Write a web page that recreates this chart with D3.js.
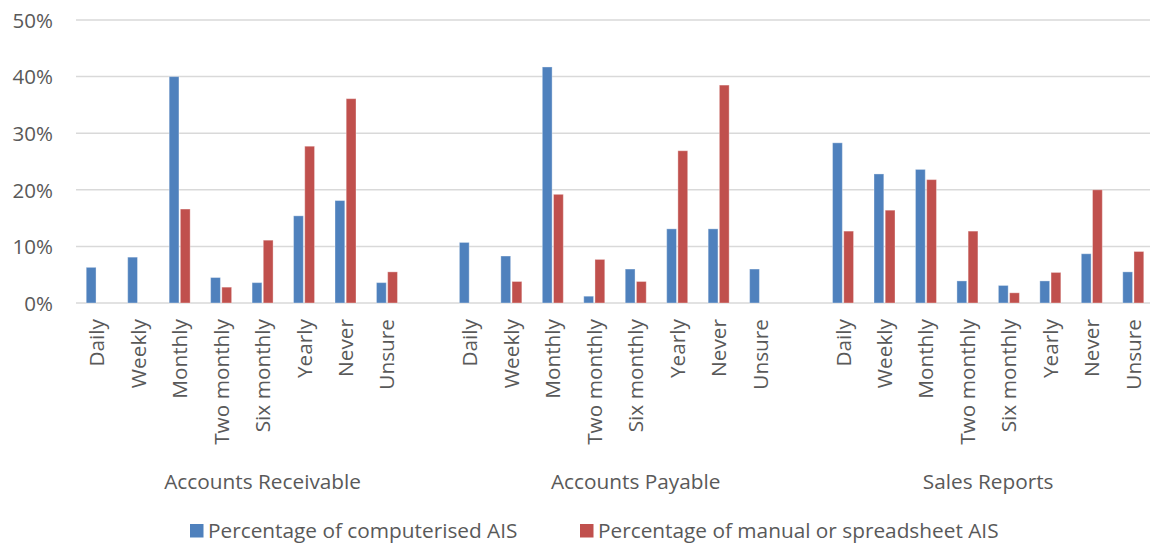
<!DOCTYPE html>
<html>
<head>
<meta charset="utf-8">
<script src="https://cdn.jsdelivr.net/npm/d3@7"></script>
<style>
  html, body { margin: 0; padding: 0; background: #fff; }
  svg text { font-family: "Open Sans", sans-serif; fill: #595959; }
</style>
</head>
<body>
<svg id="chart" width="1150" height="545"></svg>
<script>
// Reporting frequency by report type and accounting information system
const groups = ["Accounts Receivable", "Accounts Payable", "Sales Reports"];
const frequencies = ["Daily", "Weekly", "Monthly", "Two monthly", "Six monthly", "Yearly", "Never", "Unsure"];
const seriesNames = ["Percentage of computerised AIS", "Percentage of manual or spreadsheet AIS"];
const yTicks = [0, 0.1, 0.2, 0.3, 0.4, 0.5];

// Values per group, in frequency order
const computerised = [
  [0.063, 0.081, 0.400, 0.045, 0.036, 0.154, 0.181, 0.036],
  [0.107, 0.083, 0.417, 0.012, 0.060, 0.131, 0.131, 0.060],
  [0.283, 0.228, 0.236, 0.039, 0.031, 0.039, 0.087, 0.055]
];
const manual = [
  [0, 0, 0.166, 0.028, 0.111, 0.277, 0.361, 0.055],
  [0, 0.038, 0.192, 0.077, 0.038, 0.269, 0.385, 0],
  [0.127, 0.164, 0.218, 0.127, 0.018, 0.054, 0.200, 0.091]
];

const colors = ["#4F81BD", "#C0504D"];

const svg = d3.select("#chart");
const margin = { left: 76, right: -4, top: 20, bottom: 242 };
const W = 1150, H = 545;
const plotBottom = H - margin.bottom; // 303

// Slots: each group's categories followed by an empty slot between groups
const slots = [];
groups.forEach((g, gi) => {
  frequencies.forEach(f => slots.push(g + "|" + f));
  if (gi < groups.length - 1) slots.push("gap" + gi);
});

const x = d3.scaleBand().domain(slots).range([margin.left, W - margin.right]).padding(0);
const y = d3.scaleLinear().domain([0, 0.5]).range([plotBottom, margin.top]);

// Gridlines
svg.append("g")
  .selectAll("line")
  .data(yTicks)
  .join("line")
  .attr("x1", margin.left)
  .attr("x2", W - margin.right)
  .attr("y1", d => y(d))
  .attr("y2", d => y(d))
  .attr("stroke", "#d9d9d9")
  .attr("stroke-width", 1.5);

// Y axis labels
const yAxis = d3.axisLeft(y).tickValues(yTicks).tickFormat(d3.format(".0%")).tickSize(0).tickPadding(0);
const yG = svg.append("g").attr("transform", `translate(${53},0)`).call(yAxis);
yG.select(".domain").remove();
yG.selectAll("text")
  .style("font-family", "'Open Sans', sans-serif")
  .style("font-size", "20.5px")
  .attr("fill", "#595959")
  .attr("dy", "0.36em");

// Bars
const barW = 9.8, innerGap = 1.4;
const rows = [];
groups.forEach((g, gi) => {
  frequencies.forEach((f, fi) => {
    rows.push({ key: g + "|" + f, s: 0, v: computerised[gi][fi] });
    rows.push({ key: g + "|" + f, s: 1, v: manual[gi][fi] });
  });
});

svg.append("g")
  .selectAll("rect")
  .data(rows.filter(d => d.v > 0))
  .join("rect")
  .attr("x", d => {
    const c = x(d.key) + x.bandwidth() / 2;
    return d.s === 0 ? c - innerGap / 2 - barW : c + innerGap / 2;
  })
  .attr("width", barW)
  .attr("y", d => y(d.v))
  .attr("height", d => y(0) - y(d.v))
  .attr("fill", d => colors[d.s])
  .attr("stroke", "#ffffff")
  .attr("stroke-opacity", 0.35)
  .attr("stroke-width", 1);

// Rotated category labels
svg.append("g")
  .selectAll("text")
  .data(slots.filter(s => !s.startsWith("gap")))
  .join("text")
  .attr("transform", d => `translate(${x(d) + x.bandwidth() / 2},319) rotate(-90)`)
  .attr("text-anchor", "end")
  .attr("dy", "0.36em")
  .style("font-size", "20.8px")
  .text(d => d.split("|")[1]);

// Group labels, centred across each group's span (including trailing gap)
svg.append("g")
  .selectAll("text")
  .data(groups)
  .join("text")
  .attr("x", (g, gi) => {
    const first = x(g + "|" + frequencies[0]);
    const lastKey = gi < groups.length - 1 ? "gap" + gi : g + "|" + frequencies[frequencies.length - 1];
    return (first + x(lastKey) + x.bandwidth()) / 2;
  })
  .attr("y", 488.5)
  .attr("text-anchor", "middle")
  .style("font-size", "20.8px")
  .text(d => d);

// Legend
const legendItems = [
  { name: seriesNames[0], color: colors[0], x: 190 },
  { name: seriesNames[1], color: colors[1], x: 580 }
];
const lg = svg.append("g");
legendItems.forEach(it => {
  lg.append("rect")
    .attr("x", it.x).attr("y", 524)
    .attr("width", 13.5).attr("height", 13.5)
    .attr("fill", it.color);
  lg.append("text")
    .attr("x", it.x + 18).attr("y", 537.5)
    .style("font-size", "20.8px")
    .text(it.name);
});
</script>
</body>
</html>
